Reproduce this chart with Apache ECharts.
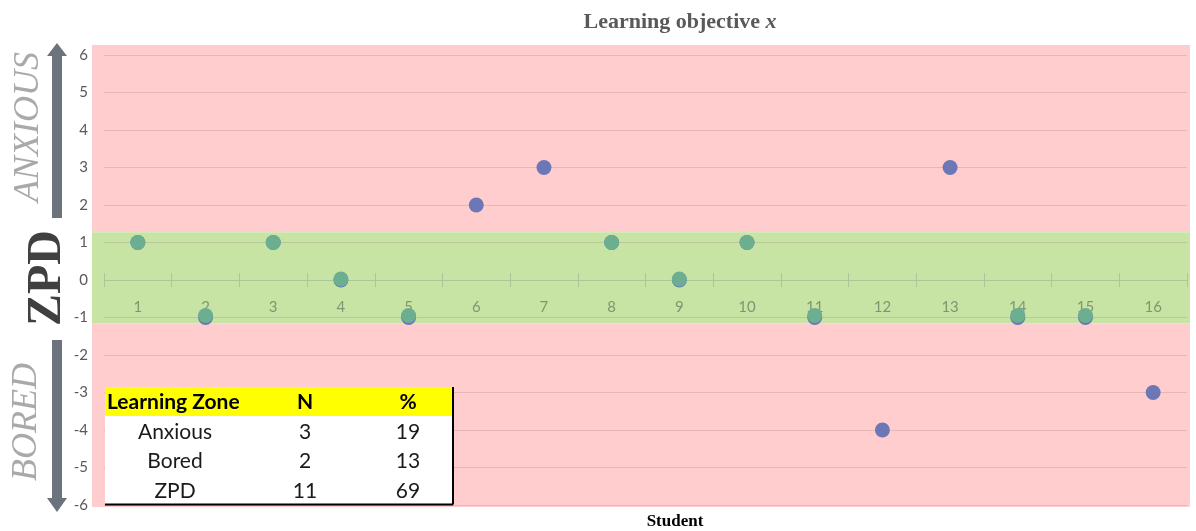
<!DOCTYPE html>
<html>
<head>
<meta charset="utf-8">
<script src="https://cdn.jsdelivr.net/npm/echarts@6/dist/echarts.min.js"></script>
<style>
  html, body { margin: 0; padding: 0; background: #ffffff; }
  #chart { width: 1196px; height: 531px; }
</style>
</head>
<body>
<div id="chart"></div>
<script>
// Students on the x axis and their score relative to the learning objective
const students = ['1', '2', '3', '4', '5', '6', '7', '8', '9', '10', '11', '12', '13', '14', '15', '16'];
const scores = [1, -1, 1, 0, -1, 2, 3, 1, 0, 1, -1, -4, 3, -1, -1, -3];

// Value axis range
const yMin = -6;
const yMax = 6;

// Shaded learning-zone bands, in score units: [upper, lower, colour]
const zoneBands = [
  [6.27, 1.28, '#ffcdcd'],
  [1.28, -1.15, '#c7e4a5'],
  [-1.15, -6.05, '#ffcdcd']
];

// Summary table
const tableHeader = ['Learning Zone', 'N', '%'];
const zoneNames = ['Anxious', 'Bored', 'ZPD'];
const zoneCounts = [
  scores.filter(v => v > 1).length,
  scores.filter(v => v < -1).length,
  scores.filter(v => v >= -1 && v <= 1).length
];
const zonePercents = zoneCounts.map(n => Math.round(n / scores.length * 100));

const allPoints = students.map((s, i) => [s, scores[i]]);
const zpdPoints = students
  .map((s, i) => ({ value: [s, scores[i]], symbolOffset: [0, -(1 - scores[i])] }))
  .filter(p => p.value[1] >= -1 && p.value[1] <= 1);

const chart = echarts.init(document.getElementById('chart'), null, { renderer: 'canvas' });

const labelFont = 'Lato, "Open Sans", sans-serif';
const serif = '"Liberation Serif", "DejaVu Serif", serif';
const tickColor = '#aac897';

// Summary table graphic (each element carries its own z so it sits above the bands)
function buildTable() {
  const x0 = 105, y0 = 387, w = 348, headH = 29, rowH = 29.5;
  const headX = [107, 305, 408];
  const bodyX = [175, 305, 408];
  const Z = 30;
  const els = [];
  els.push({ type: 'rect', z: Z, shape: { x: x0, y: y0, width: w, height: headH + rowH * 3 }, style: { fill: '#ffffff' } });
  els.push({ type: 'rect', z: Z + 1, shape: { x: x0, y: y0, width: w, height: headH }, style: { fill: '#ffff00' } });
  tableHeader.forEach((t, i) => {
    els.push({
      type: 'text', z: Z + 2, x: headX[i], y: y0 + headH / 2 + 1,
      style: { text: t, fill: '#000000', font: 'bold 21px ' + labelFont, textAlign: i === 0 ? 'left' : 'center', textVerticalAlign: 'middle' }
    });
  });
  zoneNames.forEach((name, r) => {
    const cy = y0 + headH + rowH * r + rowH / 2 + 1;
    [name, String(zoneCounts[r]), String(zonePercents[r])].forEach((t, i) => {
      els.push({
        type: 'text', z: Z + 2, x: bodyX[i], y: cy,
        style: { text: t, fill: '#1a1a1a', font: '21px ' + labelFont, textAlign: 'center', textVerticalAlign: 'middle' }
      });
    });
  });
  const yb = y0 + headH + rowH * 3;
  els.push({ type: 'line', z: Z + 3, shape: { x1: x0, y1: yb, x2: x0 + w, y2: yb }, style: { stroke: '#000000', lineWidth: 2 } });
  els.push({ type: 'line', z: Z + 3, shape: { x1: x0 + w, y1: y0, x2: x0 + w, y2: yb }, style: { stroke: '#000000', lineWidth: 2 } });
  return els;
}

const arrowColor = '#6c737c';

const option = {
  animation: false,
  backgroundColor: '#ffffff',
  grid: [
    // plotting area for the points
    { left: 104, right: 9, top: 55, bottom: 26 },
    // zone bands
    { left: 92, right: 6, top: 45, bottom: 24 },
    // student axis drawn along the zero line
    { left: 104, right: 9, top: 55, bottom: 251 }
  ],
  xAxis: [
    { type: 'category', gridIndex: 0, data: students, boundaryGap: true, show: false },
    { type: 'value', gridIndex: 1, min: 0, max: 1, show: false },
    {
      type: 'category', gridIndex: 2, data: students, boundaryGap: true, position: 'bottom', z: 3,
      axisLine: { show: true, onZero: false, lineStyle: { color: tickColor, width: 1 } },
      axisTick: { show: true, length: 7, lineStyle: { color: tickColor } },
      axisLabel: { color: '#809670', fontFamily: labelFont, fontSize: 15, margin: 20 },
      splitLine: { show: false }
    },
    {
      type: 'category', gridIndex: 2, data: students, boundaryGap: true, position: 'bottom', z: 3,
      axisLine: { show: false, onZero: false },
      axisTick: { show: true, inside: true, length: 7, lineStyle: { color: tickColor } },
      axisLabel: { show: false },
      splitLine: { show: false }
    }
  ],
  yAxis: [
    {
      type: 'value', gridIndex: 0, min: yMin, max: yMax, interval: 1, z: 3,
      axisLine: { show: false }, axisTick: { show: false },
      axisLabel: { color: '#595959', fontFamily: labelFont, fontSize: 15, margin: 16 },
      splitLine: { show: true, lineStyle: { color: 'rgba(120, 80, 80, 0.18)', width: 1 } }
    },
    { type: 'value', gridIndex: 1, min: -6.05, max: 6.27, show: false },
    { type: 'value', gridIndex: 2, min: 0, max: 1, show: false }
  ],
  series: [
    {
      type: 'custom', xAxisIndex: 1, yAxisIndex: 1, z: 1, silent: true,
      data: zoneBands.map(b => [b[0], b[1]]),
      renderItem: function (params, api) {
        const p0 = api.coord([0, api.value(0)]);
        const p1 = api.coord([1, api.value(1)]);
        return {
          type: 'rect',
          shape: { x: p0[0], y: p0[1], width: p1[0] - p0[0], height: p1[1] - p0[1] },
          style: { fill: zoneBands[params.dataIndex][2] }
        };
      }
    },
    {
      type: 'scatter', xAxisIndex: 0, yAxisIndex: 0, z: 5,
      symbolSize: 15, data: allPoints,
      itemStyle: { color: '#6b78b5', opacity: 1 }
    },
    {
      type: 'scatter', xAxisIndex: 0, yAxisIndex: 0, z: 6,
      symbolSize: 15, data: zpdPoints,
      itemStyle: { color: '#6cae90', opacity: 1 }
    }
  ],
  graphic: [
    {
      type: 'text', x: 680, y: 22, z: 10,
      style: {
        text: '{a|Learning objective }{b|x}',
        textAlign: 'center', textVerticalAlign: 'middle',
        rich: {
          a: { fontFamily: serif, fontWeight: 'bold', fontSize: 22, fill: '#595959' },
          b: { fontFamily: serif, fontWeight: 'bold', fontStyle: 'italic', fontSize: 22, fill: '#595959' }
        }
      }
    },
    {
      type: 'text', x: 675, y: 522, z: 10,
      style: { text: 'Student', font: 'bold 17px ' + serif, fill: '#000000', textAlign: 'center', textVerticalAlign: 'middle' }
    },
    {
      type: 'text', x: 29, y: 127, rotation: Math.PI / 2, z: 10,
      style: { text: 'ANXIOUS', font: 'italic 36px ' + serif, fill: '#a9a9a9', textAlign: 'center', textVerticalAlign: 'middle' }
    },
    {
      type: 'text', x: 48, y: 278, rotation: Math.PI / 2, z: 10,
      style: { text: 'ZPD', font: 'bold 48px ' + serif, fill: '#404040', textAlign: 'center', textVerticalAlign: 'middle' }
    },
    {
      type: 'text', x: 27, y: 422, rotation: Math.PI / 2, z: 10,
      style: { text: 'BORED', font: 'italic 36px ' + serif, fill: '#a9a9a9', textAlign: 'center', textVerticalAlign: 'middle' }
    },
    {
      type: 'polygon', z: 10,
      shape: { points: [[57, 43], [67, 56], [62, 56], [62, 218], [52, 218], [52, 56], [47, 56]] },
      style: { fill: arrowColor }
    },
    {
      type: 'polygon', z: 10,
      shape: { points: [[57, 512], [67, 498], [62, 498], [62, 340], [52, 340], [52, 498], [47, 498]] },
      style: { fill: arrowColor }
    }
  ].concat(buildTable())
};

chart.setOption(option);
</script>
</body>
</html>
